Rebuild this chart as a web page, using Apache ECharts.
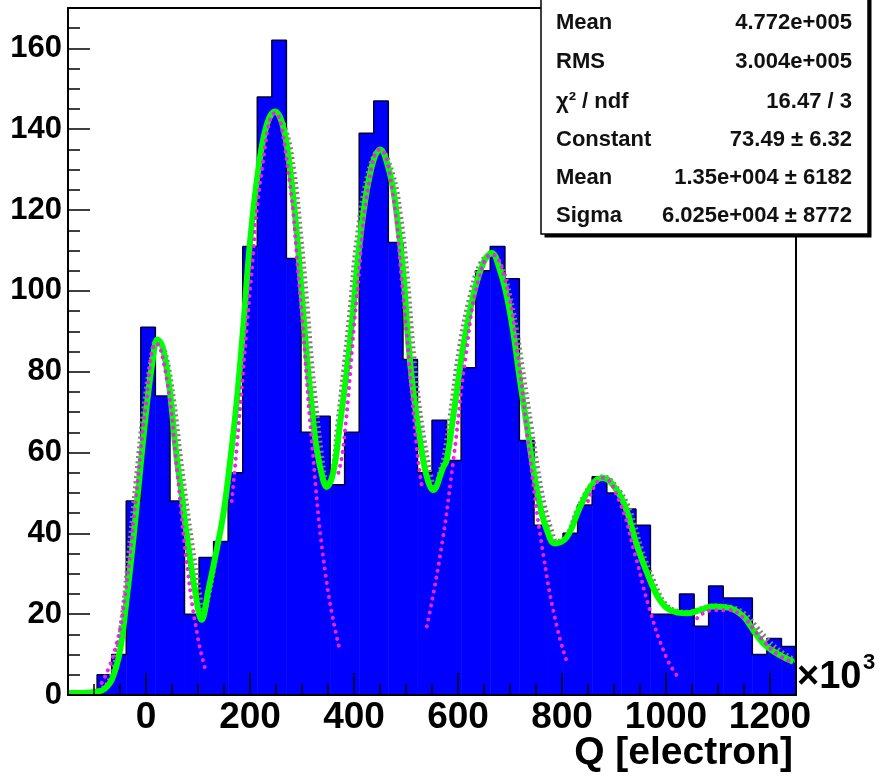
<!DOCTYPE html>
<html>
<head>
<meta charset="utf-8">
<script src="https://cdn.jsdelivr.net/npm/echarts@6/dist/echarts.min.js"></script>
<style>html,body{margin:0;padding:0;background:#fff}#c{width:880px;height:781px}</style>
</head>
<body>
<div id="c"></div>
<script>
// ---- histogram (x in units of 10^3 electrons) ----
const xMin = -150, xMax = 1250, binWidth = 28;
const counts = [1, 1, 5, 10, 48, 91, 74, 48, 20, 34,
                38, 55, 111, 148, 162, 108, 65, 69, 52, 65,
                139, 147, 112, 83, 55, 68, 58, 81, 105, 111,
                103, 63, 42, 38, 40, 47, 54, 50, 46, 42,
                20, 20, 25, 17, 27, 24, 24, 10, 14, 12];

// ---- total fit curve (green) ----
const fitX = [-150,-120,-95,-80,-65,-50,-37,-24,-11,1,12,22,32,46,56,69,81,94,107,120,136,149,161,174,187,200,216,232,248,263,277,290,299,309,319,328,341,347,360,373,386,399,411,431,450,469,482,495,504,514,527,540,552,572,578,591,610,629,649,665,681,694,706,719,732,745,758,771,786,809,835,860,879,905,924,944,969,988,1008,1040,1065,1090,1123,1149,1168,1187,1213,1245];
const fitY = [0.5,0.5,0.8,1.5,4,11,24,39,56,71,82,88,86,75,62,49,37,26,18.6,26,36,45,57,72,91,112,130,141,144.4,141,130,114,100,84,71,61,53,51.5,55,67,80,96,112,129,135,129,119,104,88,75,63,54,50.7,56.5,58,69,86,98.6,107,109.4,105,98.6,90,78,67,55.7,46.6,40.8,37.5,39,46.6,52.4,53.7,50.7,45.8,37,28.5,23.5,21,20.2,21,21.9,21.5,19.4,16,12.8,10.3,8.2];

// ---- gray dotted curve ----
const grayX = [-92,-73,-58,-45,-33,-19,-5,10,21,36,53,65,78,91,103,110,121,135,149,161,174,187,200,216,232,248,268,285,298,308,318,328,337,345,350,359,368,380,393,405,427,450,474,489,502,512,522,535,548,555,567,572,585,603,623,644,665,686,700,713,727,740,753,766,779,790,808,830,856,879,910,931,953,977,996,1015,1042,1090,1123,1152,1173,1193,1218,1250];
const grayY = [1,3,9,20,35,53,70,83,88,85,73,60,47,35,25,20,25,35,45,56,72,91,112,130,141,144,140,129,113,99,83,70,60,53,52,55,66,80,96,112,129,135,129,119,104,88,75,63,54,51,56,58,69,86,98.6,107,109,105,98.6,90,78,67,56,47,41,38,39,46,52,54,50.5,45.5,36,28,23,21,20.5,22,21.8,20,17,14,11,8.5];

// ---- single gaussian components (magenta dotted) ----
const g1X = [-85,-60,-40,-20,0,20,40,60,80,100,115];
const g1Y = [3,11,25,48,72,87,78,55,31,14,6];
const g2X = [165,175,200,225,248,270,295,320,345,371];
const g2Y = [48,62,100,132,144,133,101,61,30,12];
const g3X = [370,380,405,430,450,470,495,520,530];
const g3Y = [55,62,98,128,135,128,98,62,52];
const g4X = [540,565,590,615,640,665,690,715,740,765,790,810];
const g4Y = [17,34,57,84,103,109,103,84,57,34,17,8];
const g5X = [850,879,910,940,969,1000,1020];
const g5Y = [48,53.7,48,35,21,9.5,5];
const g6X = [1060,1090,1120,1150,1170,1190,1215,1245];
const g6Y = [19,21,21,19,16,13,10,8];

// ---- ticks ----
const xTicks = [0,200,400,600,800,1000,1200];
const xMinor = [-100,-50,50,100,150,250,300,350,450,500,550,650,700,750,850,900,950,1050,1100,1150,1250];
const yTicks = [0,20,40,60,80,100,120,140,160];
const yMinor = [5,10,15,25,30,35,45,50,55,65,70,75,85,90,95,105,110,115,125,130,135,145,150,155,165];

// ---- stats box ----
const statNames = ['Mean','RMS','\u03c7\u00b2 / ndf','Constant','Mean','Sigma'];
const statValues = ['4.772e+005','3.004e+005','16.47 / 3','73.49 \u00b1 6.32','1.35e+004 \u00b1 6182','6.025e+004 \u00b1 8772'];

const FONT = '"Liberation Sans", Arial, Helvetica, sans-serif';
const zip = (a, b) => a.map((v, i) => [v, b[i]]);

const barData = counts.map((c, i) => [xMin + i * binWidth, xMin + (i + 1) * binWidth, c]);
const outline = [];
counts.forEach((c, i) => { outline.push([xMin + i * binWidth, c]); outline.push([xMin + (i + 1) * binWidth, c]); });

function gaussSeries(xs, ys) {
  return { type: 'line', data: zip(xs, ys), smooth: 0.5, symbol: 'none', z: 6,
    lineStyle: { color: '#f020f0', width: 4, type: [0.1, 7], cap: 'round' } };
}

const chart = echarts.init(document.getElementById('c'), null, { renderer: 'canvas' });
const axisLineStyle = { color: '#000', width: 2 };
chart.setOption({
  animation: false,
  grid: { left: 68, top: 8, right: 84, bottom: 86, containLabel: false },
  xAxis: [
    { type: 'value', min: xMin, max: xMax, position: 'bottom', z: 8,
      axisLine: { show: true, onZero: false, lineStyle: axisLineStyle },
      axisTick: { show: true, inside: true, length: 22, customValues: xTicks, lineStyle: { color: '#000', width: 1.5 } },
      axisLabel: { show: true, customValues: xTicks, formatter: v => String(v), margin: 4, fontSize: 37, fontWeight: 'bold', fontFamily: FONT, color: '#000' },
      splitLine: { show: false } },
    { type: 'value', min: xMin, max: xMax, position: 'bottom', z: 8,
      axisLine: { show: false, onZero: false },
      axisTick: { show: true, inside: true, length: 11, customValues: xMinor, lineStyle: { color: '#000', width: 1.5 } },
      axisLabel: { show: false }, splitLine: { show: false } },
    { type: 'value', min: xMin, max: xMax, position: 'top', z: 8,
      axisLine: { show: true, onZero: false, lineStyle: axisLineStyle },
      axisTick: { show: false }, axisLabel: { show: false }, splitLine: { show: false } }
  ],
  yAxis: [
    { type: 'value', min: 0, max: 170, position: 'left', z: 8,
      axisLine: { show: true, onZero: false, lineStyle: axisLineStyle },
      axisTick: { show: true, inside: true, length: 22, customValues: yTicks, lineStyle: { color: '#000', width: 1.5 } },
      axisLabel: { show: true, customValues: yTicks, formatter: v => String(v), margin: 6, fontSize: 31, fontWeight: 'bold', fontFamily: FONT, color: '#000', padding: [7, 0, 0, 0] },
      splitLine: { show: false } },
    { type: 'value', min: 0, max: 170, position: 'left', z: 8,
      axisLine: { show: false, onZero: false },
      axisTick: { show: true, inside: true, length: 12, customValues: yMinor, lineStyle: { color: '#000', width: 1.5 } },
      axisLabel: { show: false }, splitLine: { show: false } },
    { type: 'value', min: 0, max: 170, position: 'right', z: 8,
      axisLine: { show: true, onZero: false, lineStyle: axisLineStyle },
      axisTick: { show: false }, axisLabel: { show: false }, splitLine: { show: false } }
  ],
  series: [
    { type: 'custom', data: barData, encode: { x: [0, 1], y: 2 }, z: 1, clip: true,
      renderItem: function (params, api) {
        const p0 = api.coord([api.value(0), 0]);
        const p1 = api.coord([api.value(1), api.value(2)]);
        return { type: 'rect', shape: { x: p0[0], y: p1[1], width: p1[0] - p0[0] + 0.5, height: p0[1] - p1[1] },
          style: { fill: '#0000ff' } };
      } },
    { type: 'line', data: outline, symbol: 'none', z: 2, lineStyle: { color: '#00003a', width: 1.5 } },
    { type: 'line', data: zip(grayX, grayY), smooth: 0.4, symbol: 'none', z: 3,
      lineStyle: { color: '#7b8470', width: 5, type: [2, 3] } },
    { type: 'line', data: zip(fitX, fitY), smooth: 0.4, symbol: 'none', z: 4,
      lineStyle: { color: '#00ff00', width: 6 } },
    gaussSeries(g1X, g1Y), gaussSeries(g2X, g2Y), gaussSeries(g3X, g3Y),
    gaussSeries(g4X, g4Y), gaussSeries(g5X, g5Y), gaussSeries(g6X, g6Y)
  ],
  graphic: [
    { type: 'text', left: 797, top: 659, z: 20,
      style: { text: '\u00d710', font: 'bold 38px ' + FONT, fill: '#000' } },
    { type: 'text', left: 863, top: 652, z: 20,
      style: { text: '3', font: 'bold 22px ' + FONT, fill: '#000' } },
    { type: 'text', right: 87, top: 734, z: 20,
      style: { text: 'Q [electron]', font: 'bold 39px ' + FONT, fill: '#000' } },
    { type: 'rect', shape: { x: 544.5, y: -36.5, width: 327, height: 274 }, z: 20, style: { fill: '#000' } },
    { type: 'rect', shape: { x: 541, y: -40, width: 327, height: 274 }, z: 21, style: { fill: '#fff', stroke: '#000', lineWidth: 1.5 } }
  ].concat(statNames.map((n, i) => ({
    type: 'text', z: 22, x: 556, y: [22.5, 62, 101.5, 140, 177.5, 215.5][i],
    style: { text: n, font: 'bold 22px ' + FONT, fill: '#111', textVerticalAlign: 'middle' }
  }))).concat(statValues.map((v, i) => ({
    type: 'text', z: 22, x: 852, y: [22.5, 62, 101.5, 140, 177.5, 215.5][i],
    style: { text: v, font: 'bold 22px ' + FONT, fill: '#111', textAlign: 'right', textVerticalAlign: 'middle' }
  })))
});
</script>
</body>
</html>
